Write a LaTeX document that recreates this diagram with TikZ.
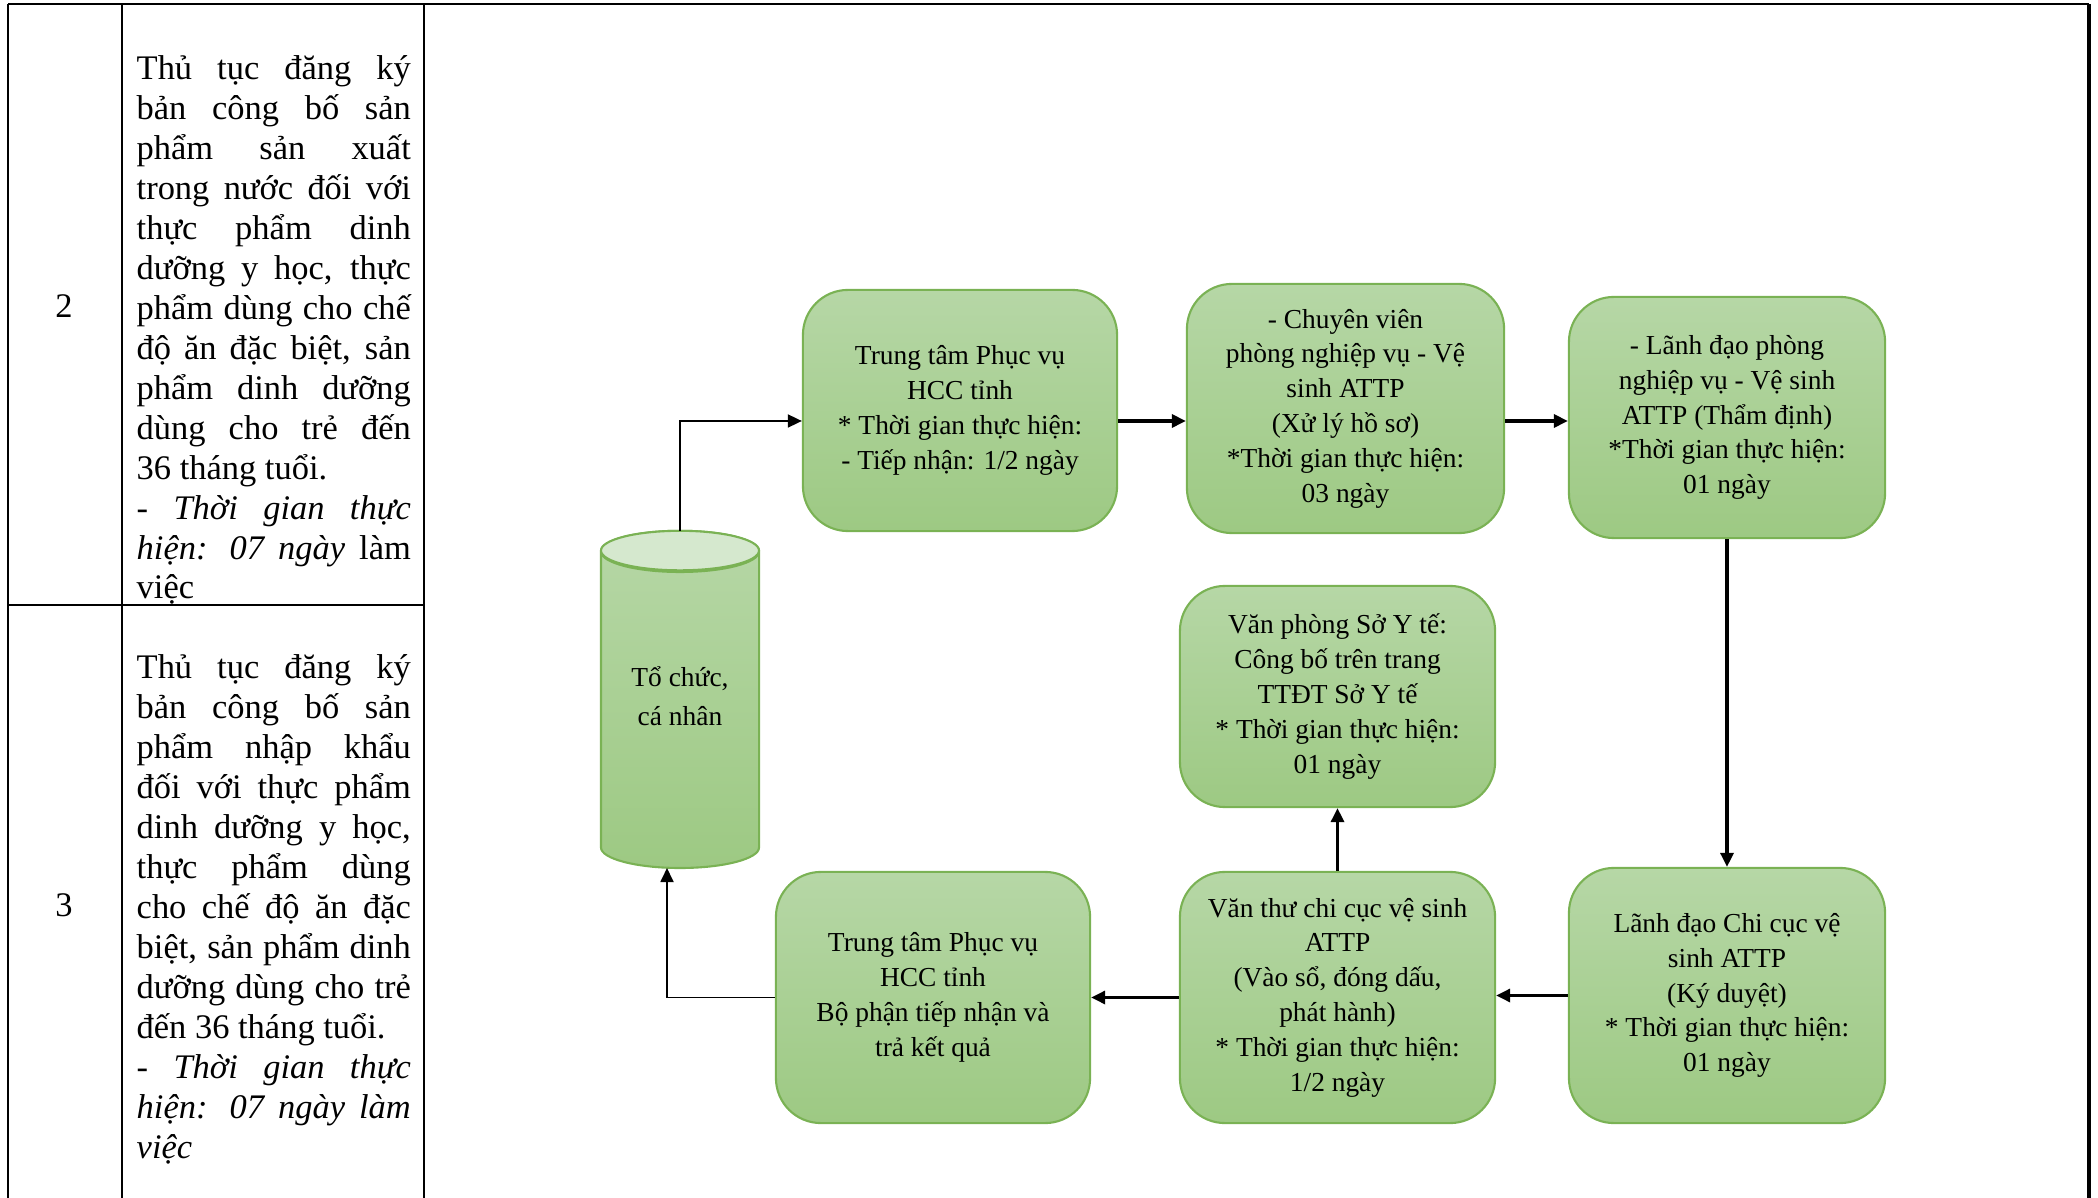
\documentclass[tikz,border=0pt]{standalone}
\usepackage{fontspec}
\setmainfont{Liberation Serif}
\usetikzlibrary{shapes.geometric,arrows.meta}
\hyphenpenalty=10000
\exhyphenpenalty=10000

\definecolor{boxtop}{RGB}{182,215,166}
\definecolor{boxbot}{RGB}{157,201,131}
\definecolor{boxline}{RGB}{122,178,84}
\definecolor{cyltop}{RGB}{213,232,206}

\begin{document}
\begin{tikzpicture}[x=0.01cm,y=-0.01cm,
  >={Triangle[length=0.14cm,width=0.13cm]},
  flowbox/.style={draw=boxline,line width=0.6pt,rounded corners=0.45cm,
    top color=boxtop,bottom color=boxbot,align=center,inner sep=2pt,
    font=\fontsize{7.8}{9.9}\selectfont},
  link/.style={->,line width=0.9pt},
  thinlink/.style={->,line width=0.5pt},
  coltext/.style={anchor=north west,inner sep=0pt,text width=2.74cm,
    align=justify,font=\fontsize{9.8}{11.36}\selectfont},
  grid/.style={line width=0.8pt}]
\useasboundingbox (0,0) rectangle (2098,1198);

% table frame
\draw[grid] (8,4) -- (2089,4);
\foreach \xx in {8,122,424} {
  \draw[grid] (\xx,4) -- (\xx,1198);
}
\draw[line width=1.3pt] (2089,4) -- (2089,1198);
\draw[grid] (8,605) -- (424,605);

\node[font=\fontsize{9.8}{11.36}\selectfont] (no2) at (64,306) {2};
\node[font=\fontsize{9.8}{11.36}\selectfont] (no3) at (64,905) {3};

\node[coltext] (proc2) at (136,55) {Thủ tục đăng ký\linebreak
bản công bố sản\linebreak
phẩm sản xuất\linebreak
trong nước đối với\linebreak
thực phẩm dinh\linebreak
dưỡng y học, thực\linebreak
phẩm dùng cho chế\linebreak
độ ăn đặc biệt, sản\linebreak
phẩm dinh dưỡng\linebreak
dùng cho trẻ đến\linebreak
36 tháng tuổi.\par
\textit{- Thời gian thực\linebreak
hiện: 07 ngày} làm\linebreak
việc};

\node[coltext] (proc3) at (136,654) {Thủ tục đăng ký\linebreak
bản công bố sản\linebreak
phẩm nhập khẩu\linebreak
đối với thực phẩm\linebreak
dinh dưỡng y học,\linebreak
thực phẩm dùng\linebreak
cho chế độ ăn đặc\linebreak
biệt, sản phẩm dinh\linebreak
dưỡng dùng cho trẻ\linebreak
đến 36 tháng tuổi.\par
\textit{- Thời gian thực\linebreak
hiện: 07 ngày làm\linebreak
việc}};

% flow chart
\node[cylinder,shape border rotate=90,aspect=0.424,draw=boxline,line width=0.6pt,
  top color=boxtop,bottom color=boxbot,minimum width=1.58cm,minimum height=3.37cm,
  inner sep=0pt,outer sep=0pt,text depth=0.28cm,align=center,
  font=\fontsize{7.8}{11}\selectfont,anchor=south]
  (cyl) at (680,868) {Tổ chức,\\cá nhân};
\draw[draw=boxline,line width=0.6pt,fill=cyltop] ([yshift=-0.1975cm]cyl.north)
  ellipse [x radius=0.79cm,y radius=0.1975cm];

\node[flowbox,minimum width=3.14cm,minimum height=2.41cm] (recv) at (960,410.5)
  {Trung tâm Phục vụ\\HCC tỉnh\\* Thời gian thực hiện:\\- Tiếp nhận: 1/2 ngày};
\node[flowbox,minimum width=3.17cm,minimum height=2.49cm] (expert) at (1345.5,408.5)
  {- Chuyên viên\\phòng nghiệp vụ - Vệ\\sinh ATTP\\(Xử lý hồ sơ)\\*Thời gian thực hiện:\\03 ngày};
\node[flowbox,minimum width=3.16cm,minimum height=2.41cm] (check) at (1727,417.5)
  {- Lãnh đạo phòng\\nghiệp vụ - Vệ sinh\\ATTP (Thẩm định)\\*Thời gian thực hiện:\\01 ngày};
\node[flowbox,minimum width=3.16cm,minimum height=2.55cm] (sign) at (1727,995.5)
  {Lãnh đạo Chi cục vệ\\sinh ATTP\\(Ký duyệt)\\* Thời gian thực hiện:\\01 ngày};
\node[flowbox,minimum width=3.15cm,minimum height=2.51cm] (clerk) at (1337.5,997.5)
  {Văn thư chi cục vệ sinh\\ATTP\\(Vào sổ, đóng dấu,\\phát hành)\\* Thời gian thực hiện:\\1/2 ngày};
\node[flowbox,minimum width=3.15cm,minimum height=2.21cm] (publish) at (1337.5,696.5)
  {Văn phòng Sở Y tế:\\Công bố trên trang\\TTĐT Sở Y tế\\* Thời gian thực hiện:\\01 ngày};
\node[flowbox,minimum width=3.14cm,minimum height=2.51cm] (result) at (933,997.5)
  {Trung tâm Phục vụ\\HCC tỉnh\\Bộ phận tiếp nhận và\\trả kết quả};

\coordinate (toprow) at (0,421);
\draw[thinlink] (cyl.north) |- (recv.west |- toprow);
\draw[link] (recv.east |- toprow) -- (expert.west |- toprow);
\draw[link] (expert.east |- toprow) -- (check.west |- toprow);
\draw[link] (check.south) -- (sign.north);
\draw[link] (sign.west) -- (sign.west -| clerk.east);
\draw[link] (clerk.north) -- (publish.south);
\draw[link] (clerk.west) -- (result.east);
\draw[thinlink] (result.west) -| ([xshift=-0.13cm]cyl.south);
\end{tikzpicture}
\end{document}
